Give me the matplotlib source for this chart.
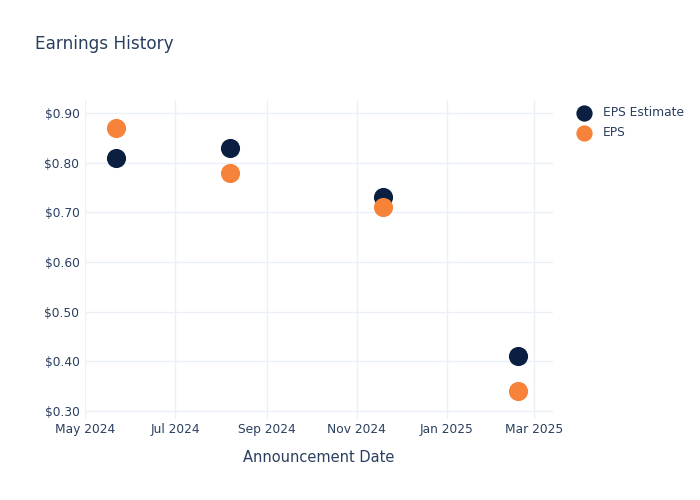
import matplotlib
matplotlib.use("Agg")
import matplotlib.pyplot as plt
import datetime as dt

dates = ["2024-05-22", "2024-08-07", "2024-11-19", "2025-02-18"]
eps_estimate = [0.81, 0.83, 0.73, 0.41]
eps_actual = [0.87, 0.78, 0.71, 0.34]
y_ticks = [0.30, 0.40, 0.50, 0.60, 0.70, 0.80, 0.90]
x_ticks = ["2024-05-01", "2024-07-01", "2024-09-01", "2024-11-01", "2025-01-01", "2025-03-01"]

TXT = "#2a3f5f"
GRID = "#ebf0f8"
NAVY = "#0b1f41"
ORANGE = "#f7833a"

plt.rcParams['font.family'] = ['DejaVu Sans']
fig = plt.figure(figsize=(7, 5), dpi=100)
ax = fig.add_axes([85/700, 81/500, 468/700, 319/500])

d = [dt.datetime.strptime(s, "%Y-%m-%d") for s in dates]
ax.scatter(d, eps_estimate, s=190, color=NAVY, zorder=3, label="EPS Estimate", linewidths=0)
ax.scatter(d, eps_actual, s=190, color=ORANGE, zorder=3, label="EPS", linewidths=0)

xt = [dt.datetime.strptime(s, "%Y-%m-%d") for s in x_ticks]
ax.set_xticks(xt)
ax.set_xticklabels([t.strftime("%b %Y") for t in xt])
ax.set_xlim(dt.datetime(2024, 5, 1), dt.datetime(2025, 3, 14))
ax.set_yticks(y_ticks)
ax.set_yticklabels([f"${v:.2f}" for v in y_ticks])
ax.set_ylim(0.284, 0.926)

ax.grid(True, color=GRID, linewidth=1)
ax.set_axisbelow(True)
for s in ax.spines.values():
    s.set_visible(False)
ax.tick_params(axis='both', length=0, colors=TXT, labelsize=8.8)
ax.tick_params(axis='y', pad=4)
ax.tick_params(axis='x', pad=3)
ax.set_xlabel("Announcement Date", color=TXT, fontsize=10.5, labelpad=10)

fig.text(35/700, 1 - 44/500, "Earnings History", color=TXT, fontsize=12.2, va='center', ha='left')

leg = fig.legend(loc='upper left', bbox_to_anchor=(572/700, 1 - 106/500), frameon=False,
                 fontsize=8.8, labelcolor=TXT, handletextpad=0.55, labelspacing=0.6,
                 borderaxespad=0, borderpad=0, markerscale=0.85)

fig.savefig("out.png", dpi=100)
